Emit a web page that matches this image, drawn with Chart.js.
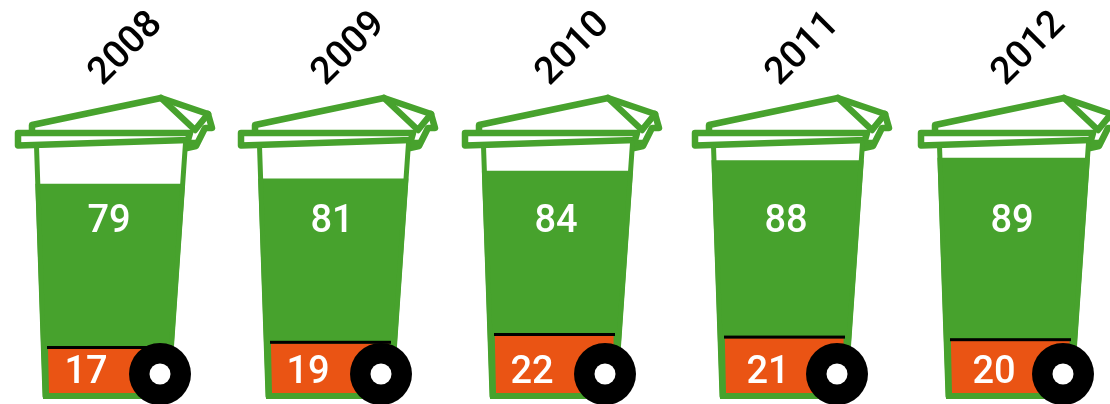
<!DOCTYPE html>
<html><head><meta charset="utf-8">
<style>html,body{margin:0;padding:0;background:#fff;overflow:hidden}canvas{display:block}</style>
<script src="https://cdn.jsdelivr.net/npm/chart.js@4"></script>
</head><body><canvas id="c" width="1110" height="404"></canvas>
<script>
const years = ['2008','2009','2010','2011','2012'];
const greenValues = [79,81,84,88,89];
const orangeValues = [17,19,22,21,20];

// layout (not data)
const GREEN='#47a22d', ORANGE='#ea5414';
const binNudge=[-1,0,2,10,14];
const orangeLabelShift=[-24,-25,-25,-19,-19];
const wheelShift=[50,48,48,50,50];
const FONT='500 38px Roboto';
const path=(ctx,c,pts,close)=>{pts.forEach((p,i)=>i?ctx.lineTo(c+p[0],p[1]):ctx.moveTo(c+p[0],p[1]));if(close)ctx.closePath();};
const bodyPoly=[[-76,146],[78,141],[60,399],[-67,399]];
const orangePoly=[[-63,300],[57,300],[56,393],[-61,393]];
const lidPaths=[
 [[-92,133],[80,133],[78,140],[-92,145.5]],
 [[-78,131],[-78,125],[51,98],[98,114],[102,128],[95,128],[86,146],[77,148]],
 [[51,98],[85,130],[98,114]],
 [[79,143],[86,143]]
];
const leftEdge=[[-73.5,146],[-65,396.5],[58,396.5],[75.5,143]];

class BinScale extends Chart.CategoryScale{
  getPixelForValue(value,index){
    const v=typeof value==='number'?value:this.parse(value,index);
    return super.getPixelForValue(v,index)+(binNudge[Math.round(v)]||0);
  }
}
BinScale.id='binScale';
BinScale.defaults=Chart.CategoryScale.defaults;
Chart.register(BinScale);

const binArt={
  id:'binArt',
  beforeDatasetDraw(chart,args){
    const ctx=chart.ctx, poly=args.index===0?bodyPoly:orangePoly;
    ctx.save();ctx.beginPath();
    chart.getDatasetMeta(args.index).data.forEach(el=>path(ctx,el.x,poly,true));
    ctx.clip();
  },
  afterDatasetDraw(chart){chart.ctx.restore();},
  afterDatasetsDraw(chart){
    const ctx=chart.ctx;
    const g=chart.getDatasetMeta(0).data,o=chart.getDatasetMeta(1).data;
    g.forEach((el,i)=>{
      const c=el.x;
      ctx.strokeStyle=GREEN;ctx.lineJoin='round';ctx.lineCap='round';ctx.lineWidth=6.5;
      lidPaths.forEach((p,k)=>{ctx.beginPath();path(ctx,c,p,k===0);ctx.stroke();});
      ctx.lineWidth=5;ctx.beginPath();path(ctx,c,leftEdge,false);ctx.stroke();
      // black rim above the orange part
      ctx.fillStyle='#000';ctx.fillRect(c-63,o[i].y-3,121,3);
      // wheel
      const wx=c+wheelShift[i];
      ctx.beginPath();ctx.arc(wx,374,31,0,Math.PI*2);ctx.fill();
      ctx.fillStyle='#fff';ctx.beginPath();ctx.arc(wx,374,10.5,0,Math.PI*2);ctx.fill();
      // values
      ctx.font=FONT;ctx.textAlign='center';ctx.textBaseline='middle';ctx.fillStyle='#fff';
      ctx.fillText(String(greenValues[i]),c-1,222);
      ctx.fillText(String(orangeValues[i]),c+orangeLabelShift[i],373);
    });
  }
};

new Chart(document.getElementById('c'),{
  type:'bar',
  data:{labels:years,datasets:[
    {label:'Green',data:greenValues,backgroundColor:GREEN,yAxisID:'y',order:2,base:-5.6,grouped:false,barThickness:190,borderWidth:0},
    {label:'Orange',data:orangeValues,backgroundColor:ORANGE,yAxisID:'y2',order:1,base:-4.1,grouped:false,barThickness:190,borderWidth:0}
  ]},
  plugins:[binArt],
  options:{
    responsive:false,animation:false,
    layout:{padding:0},
    plugins:{legend:{display:false},tooltip:{enabled:false}},
    scales:{
      x:{type:'binScale',position:'top',offset:true,
        grid:{display:false,drawTicks:false},border:{display:false},
        ticks:{autoSkip:false,minRotation:45,maxRotation:45,padding:-6,labelOffset:18,color:'#000',font:{family:'Roboto',size:38,weight:'500'}},
        afterFit(s){s.height=90;s.paddingLeft=0;s.paddingRight=0;}},
      y:{display:false,min:-5.615,max:115.15},
      y2:{display:false,min:-4.155,max:116.615}
    }
  }
});
</script></body></html>
